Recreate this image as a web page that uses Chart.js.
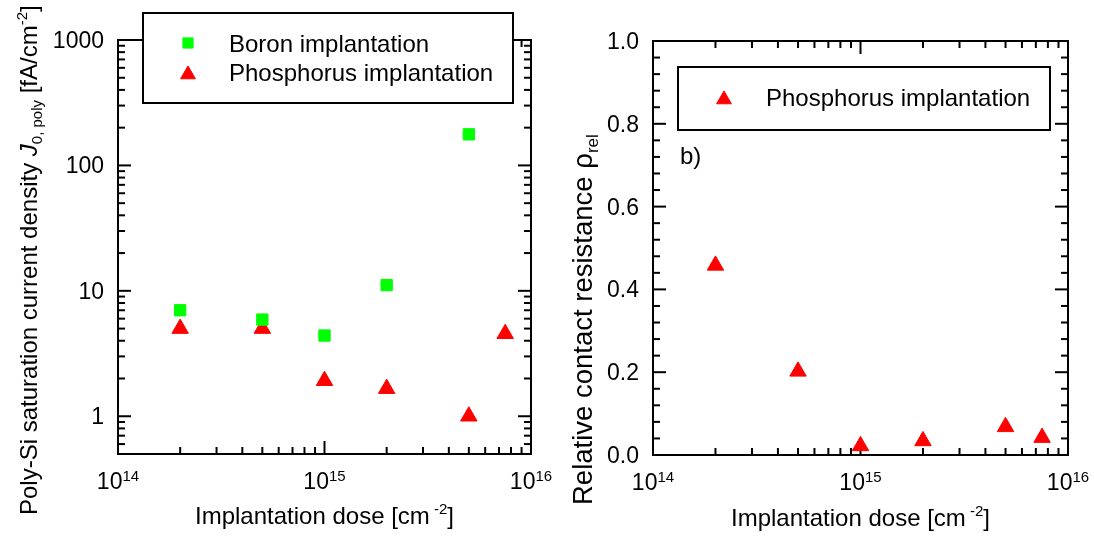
<!DOCTYPE html>
<html><head><meta charset="utf-8">
<script src="https://cdn.jsdelivr.net/npm/chart.js@4"></script>
<style>
html,body{margin:0;padding:0;background:#fff;width:1094px;height:538px;overflow:hidden}
.box{position:absolute;top:0;height:538px}
#a{left:0;width:580px}#b{left:547px;width:547px}
</style></head><body>
<div class="box" id="a"><canvas id="c1"></canvas></div>
<div class="box" id="b"><canvas id="c2"></canvas></div>
<script>
// ---- data ----
const doses = [2e14, 5e14, 1e15, 2e15, 5e15, 7.5e15];
const boronJ0 = [7.0, 5.9, 4.4, 11.1, 177, null];
const phosJ0 = [5.0, 5.0, 1.92, 1.66, 1.0, 4.55];
const phosRho = [0.458, 0.202, 0.022, 0.034, 0.068, 0.042];
const xTickExps = [14, 15, 16];
const yTicksLeft = ['1', '10', '100', '1000'];
const yTicksRight = ['0.0', '0.2', '0.4', '0.6', '0.8', '1.0'];
const seriesNames = ['Boron implantation', 'Phosphorus implantation'];

const FONT = '"Liberation Sans", Arial, sans-serif';
const GREEN = '#00ff00', RED = '#ff0000';
function fnt(size, style) { return (style || '') + ' ' + size + 'px ' + FONT; }
function pts(ys) { return doses.map((d, i) => ({x: d, y: ys[i]})).filter(p => p.y !== null); }

function drawRich(ctx, segs, x, y, align) {
  let total = 0;
  segs.forEach(s => { ctx.font = fnt(s.size, s.style); s.w = ctx.measureText(s.t).width; total += s.w; });
  let cx = align === 'center' ? x - total / 2 : align === 'right' ? x - total : x;
  ctx.textAlign = 'left'; ctx.textBaseline = 'alphabetic';
  segs.forEach(s => { ctx.font = fnt(s.size, s.style); ctx.fillText(s.t, cx, y + (s.dy || 0)); cx += s.w; });
}
function seg(t, size, style, dy) { return {t, size, style, dy}; }

function logMinors(lo, hi) {
  const out = [];
  for (let e = Math.floor(Math.log10(lo)) - 1; e <= Math.ceil(Math.log10(hi)); e++)
    for (let m = 2; m <= 9; m++) { const v = m * Math.pow(10, e); if (v > lo && v < hi) out.push(v); }
  return out;
}

const framePlugin = {
  id: 'frame',
  beforeDatasetsDraw(chart, args, o) {
    const {ctx, chartArea: a, scales: {x, y}} = chart;
    ctx.save();
    ctx.strokeStyle = '#000'; ctx.fillStyle = '#000';
    const MAJ = 13, MIN = 7;
    const ln = (x1, y1, x2, y2) => { ctx.beginPath(); ctx.moveTo(x1, y1); ctx.lineTo(x2, y2); ctx.stroke(); };
    ctx.lineWidth = 2;
    const xMaj = xTickExps.map(e => Math.pow(10, e));
    xMaj.forEach(v => { const p = x.getPixelForValue(v); ln(p, a.bottom, p, a.bottom - MAJ); ln(p, a.top, p, a.top + MAJ); });
    logMinors(x.min, x.max).forEach(v => { const p = x.getPixelForValue(v); ln(p, a.bottom, p, a.bottom - MIN); ln(p, a.top, p, a.top + MIN); });
    o.yMajor.forEach(v => { const p = y.getPixelForValue(v); ln(a.left, p, a.left + MAJ, p); ln(a.right, p, a.right - MAJ, p); });
    o.yMinor.forEach(v => { const p = y.getPixelForValue(v); ln(a.left, p, a.left + MIN, p); ln(a.right, p, a.right - MIN, p); });
    ctx.strokeRect(a.left, a.top, a.right - a.left, a.bottom - a.top);
    // x tick labels
    xTickExps.forEach(e => {
      const p = x.getPixelForValue(Math.pow(10, e));
      drawRich(ctx, [seg('10', 23), seg(String(e), 15, '', -8)], p, a.bottom + 35, 'center');
    });
    // y tick labels
    o.yLabels.forEach((t, i) => {
      const p = y.getPixelForValue(o.yMajor[i]);
      drawRich(ctx, [seg(t, 23)], a.left - 14, p + 8, 'right');
    });
    // x title
    drawRich(ctx, [seg('Implantation dose [cm', 24), seg(' -2', 15, '', -10), seg(']', 24)], (a.left + a.right) / 2, o.xTitleY, 'center');
    // y title
    ctx.save();
    ctx.translate(o.yTitleX, o.yTitleStart);
    ctx.rotate(-Math.PI / 2);
    drawRich(ctx, o.yTitle, 0, 0, 'left');
    ctx.restore();
    ctx.restore();
  },
  afterDraw(chart, args, o) {
    const {ctx} = chart;
    ctx.save();
    const L = o.legend;
    ctx.fillStyle = '#fff';
    ctx.fillRect(L.x, L.y, L.w, L.h);
    ctx.strokeStyle = '#000'; ctx.lineWidth = 2;
    ctx.strokeRect(L.x, L.y, L.w, L.h);
    chart.data.datasets.forEach((ds, i) => {
      const cy = L.rows[i];
      ctx.fillStyle = ds.backgroundColor; ctx.strokeStyle = ds.borderColor; ctx.lineWidth = ds.borderWidth;
      Chart.helpers.drawPoint(ctx, {pointStyle: ds.pointStyle, radius: ds.pointRadius * 0.9, borderWidth: ds.borderWidth}, L.mx, cy + (ds.pointStyle === 'triangle' ? 2.5 : 0));
      ctx.fillStyle = '#000';
      drawRich(ctx, [seg(ds.label, 24)], L.tx, cy + 8.5, 'left');
    });
    if (o.note) { ctx.fillStyle = '#000'; drawRich(ctx, [seg(o.note.t, 24)], o.note.x, o.note.y, 'left'); }
    ctx.restore();
  }
};

const boronDs = {label: seriesNames[0], data: pts(boronJ0), pointStyle: 'rect', pointRadius: 8, borderWidth: 1, backgroundColor: GREEN, borderColor: GREEN};
const phosDs = {label: seriesNames[1], data: pts(phosJ0), pointStyle: 'triangle', pointRadius: 9.5, borderWidth: 1, backgroundColor: RED, borderColor: RED};
const phosRhoDs = {label: seriesNames[1], data: pts(phosRho), pointStyle: 'triangle', pointRadius: 9.5, borderWidth: 1, backgroundColor: RED, borderColor: RED};

function baseOpts(pad, yScale, frame) {
  return {
    responsive: true, maintainAspectRatio: false, animation: false, devicePixelRatio: 1,
    events: [],
    layout: {padding: pad},
    scales: {
      x: {type: 'logarithmic', min: 1e14, max: 1e16, display: false},
      y: yScale
    },
    plugins: {legend: {display: false}, tooltip: {enabled: false}, frame: frame},
    elements: {point: {hoverRadius: 9.5}}
  };
}

new Chart(document.getElementById('c1'), {
  type: 'scatter',
  data: {datasets: [boronDs, phosDs]},
  options: baseOpts({left: 118, top: 40, right: 49, bottom: 84},
    {type: 'logarithmic', min: 0.5, max: 1000, display: false},
    {
      yMajor: [1, 10, 100, 1000], yMinor: logMinors(0.5, 1000), yLabels: yTicksLeft,
      xTitleY: 524, yTitleX: 37, yTitleStart: 515,
      yTitle: [seg('Poly-Si saturation current density ', 24), seg('J', 24, 'italic'), seg('0, poly', 15, '', 5), seg(' [fA/cm', 24), seg('-2', 15, '', -10), seg(']', 24)],
      legend: {x: 143, y: 13, w: 370, h: 90, rows: [43, 72], mx: 188, tx: 229}
    }),
  plugins: [framePlugin]
});

const rMinor = [];
for (let k = 1; k < 25; k++) { if (k % 5 !== 0) rMinor.push(k * 0.04); }
new Chart(document.getElementById('c2'), {
  type: 'scatter',
  data: {datasets: [phosRhoDs]},
  options: baseOpts({left: 106, top: 41, right: 26, bottom: 83},
    {type: 'linear', min: 0, max: 1, display: false},
    {
      yMajor: [0, 0.2, 0.4, 0.6, 0.8, 1.0], yMinor: rMinor, yLabels: yTicksRight,
      xTitleY: 526, yTitleX: 45, yTitleStart: 505,
      yTitle: [seg('Relative contact resistance \u03c1', 27.5), seg('rel', 17, '', 6)],
      legend: {x: 131, y: 67, w: 372, h: 63, rows: [97], mx: 177, tx: 219},
      note: {t: 'b)', x: 133, y: 164}
    }),
  plugins: [framePlugin]
});
</script>
</body></html>
